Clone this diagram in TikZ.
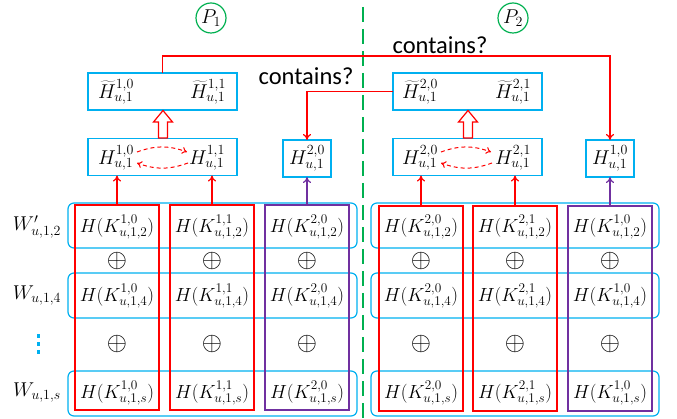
\RequirePackage{fix-cm}
\documentclass[tikz,border=0pt]{standalone}
\usepackage[no-math]{fontspec}
\setmainfont{Carlito}
\usetikzlibrary{arrows.meta}
\definecolor{cblue}{RGB}{0,176,240}
\definecolor{cred}{RGB}{255,0,0}
\definecolor{cpurple}{RGB}{112,48,160}
\definecolor{cgreen}{RGB}{0,176,80}
\begin{document}
\begin{tikzpicture}[x=1pt,y=-1pt,
  every node/.style={inner sep=0pt,outer sep=0pt},
  rowbox/.style={draw=cblue,line width=1.2pt,rounded corners=6pt,minimum width=#1,minimum height=45},
  colbox/.style={draw=#1,line width=1.2pt,minimum width=84,minimum height=205},
  hbox/.style={draw=cblue,line width=1.2pt,minimum width=#1,minimum height=37},
  cell/.style={font=\fontsize{19}{23}\selectfont},
  htxt/.style={font=\fontsize{20}{24}\selectfont},
  xorop/.style={font=\fontsize{26}{30}\selectfont},
  lbl/.style={font=\fontsize{24.5}{28}\selectfont},
  pcirc/.style={draw=cgreen,line width=1.2pt,circle,minimum size=30,font=\fontsize{20}{24}\selectfont},
  conn/.style={draw=cred,line width=1.2pt},
  upar/.style={line width=1.2pt,-{To[length=6pt,width=8pt]}},
  dasharr/.style={draw=cred,line width=1pt,dash pattern=on 4pt off 3pt,-{To[length=5pt,width=7pt]}},
  hollow/.style={draw=cred,fill=white,line width=1.2pt,line join=miter},
  bluedot/.style={fill=cblue,minimum size=3.6,inner sep=0pt}
]
\useasboundingbox (0,0) rectangle (677,419);

% divider
\draw[cgreen,line width=2.2pt,dash pattern=on 15pt off 7pt] (363,7) coordinate (dtop) -- (363,419) coordinate (dbot);

% party circles
\node[pcirc] (p1) at (211,18) {$P_1$};
\node[pcirc] (p2) at (513,18) {$P_2$};

% row boxes
\foreach \n/\y in {a/225.5,b/295.5,c/393.5}{
  \node[rowbox=289] (L\n) at (212.5,\y) {};
  \node[rowbox=288] (R\n) at (515,\y) {};
}
% columns
\node[colbox=cred] (Lc1) at (117,307.5) {};
\node[colbox=cred] (Lc2) at (212,307.5) {};
\node[colbox=cpurple] (Lc3) at (307,307.5) {};
\node[colbox=cred] (Rc1) at (421,308.5) {};
\node[colbox=cred] (Rc2) at (515,308.5) {};
\node[colbox=cpurple] (Rc3) at (610,308.5) {};

% cell texts
\foreach \x/\s/\k in {117/{1,0}/1, 212/{1,1}/2, 307/{2,0}/3}{
  \node[cell] (Lt\k a) at (\x,227) {$H(K^{\s}_{u,1,2})$};
  \node[cell] (Lt\k b) at (\x,296) {$H(K^{\s}_{u,1,4})$};
  \node[cell] (Lt\k c) at (\x,393) {$H(K^{\s}_{u,1,s})$};
  \node[xorop] (Lo\k a) at (\x,261) {$\oplus$};
  \node[xorop] (Lo\k b) at (\x,344) {$\oplus$};
}
\foreach \x/\s/\k in {421/{2,0}/1, 515/{2,1}/2, 610/{1,0}/3}{
  \node[cell] (Rt\k a) at (\x,227) {$H(K^{\s}_{u,1,2})$};
  \node[cell] (Rt\k b) at (\x,296) {$H(K^{\s}_{u,1,4})$};
  \node[cell] (Rt\k c) at (\x,393) {$H(K^{\s}_{u,1,s})$};
  \node[xorop] (Ro\k a) at (\x,261) {$\oplus$};
  \node[xorop] (Ro\k b) at (\x,344) {$\oplus$};
}

% row labels
\node[htxt] (w1) at (37,227) {$W'_{u,1,2}$};
\node[htxt] (w2) at (37,296) {$W_{u,1,4}$};
\node[bluedot] (d1) at (38.5,336) {};
\node[bluedot] (d2) at (38.5,344) {};
\node[bluedot] (d3) at (38.5,352) {};
\node[htxt] (w4) at (37,393) {$W_{u,1,s}$};

% upper boxes left
\node[hbox=149] (HtL) at (162.5,91.5) {};
\node[htxt] (HtL0) at (116,92) {$\widetilde{H}^{1,0}_{u,1}$};
\node[htxt] (HtL1) at (208,92) {$\widetilde{H}^{1,1}_{u,1}$};
\node[hbox=149] (HL) at (162.5,157) {};
\node[htxt] (HL0) at (116,158) {$H^{1,0}_{u,1}$};
\node[htxt] (HL1) at (207,158) {$H^{1,1}_{u,1}$};
\node[hbox=48] (HL2) at (307,158.5) {};
\node[htxt] (HL2t) at (HL2) {$H^{2,0}_{u,1}$};

% upper boxes right
\node[hbox=149] (HtR) at (467.5,91.5) {};
\node[htxt] (HtR0) at (420,92) {$\widetilde{H}^{2,0}_{u,1}$};
\node[htxt] (HtR1) at (513,92) {$\widetilde{H}^{2,1}_{u,1}$};
\node[hbox=149] (HR) at (467.5,157) {};
\node[htxt] (HR0) at (420,158) {$H^{2,0}_{u,1}$};
\node[htxt] (HR1) at (513,158) {$H^{2,1}_{u,1}$};
\node[hbox=48] (HR2) at (610,158.5) {};
\node[htxt] (HR2t) at (HR2) {$H^{1,0}_{u,1}$};

% column arrows
\draw[upar,cred] (Lc1.north) -- (Lc1.north |- HL.south);
\draw[upar,cred] (Lc2.north) -- (Lc2.north |- HL.south);
\draw[upar,cpurple] (Lc3.north) -- (HL2.south);
\draw[upar,cred] (Rc1.north) -- (Rc1.north |- HR.south);
\draw[upar,cred] (Rc2.north) -- (Rc2.north |- HR.south);
\draw[upar,cpurple] (Rc3.north) -- (HR2.south);

% hollow arrows
\foreach \cx in {163,468}{
  \draw[hollow] (\cx-4.5,138) -- (\cx-4.5,122) -- (\cx-9.5,122) -- (\cx,110.5)
     -- (\cx+9.5,122) -- (\cx+4.5,122) -- (\cx+4.5,138) -- cycle;
}

% dashed swaps
\draw[dasharr] (137,152) to[out=20,in=160] (187,152);
\draw[dasharr] (188,163) to[out=-160,in=-20] (137,163);
\draw[dasharr] (441,152) to[out=20,in=160] (491,152);
\draw[dasharr] (492,163) to[out=-160,in=-20] (441,163);

% contains connectors
\draw[conn,-{To[length=6pt,width=8pt]}] (HtL.north) |- (610,56) -- (HR2.north);
\draw[conn,-{To[length=6pt,width=8pt]}] (HtR.west) -| (HL2.north);
\node[lbl] (c1) at (440,45) {contains?};
\node[lbl] (c2) at (306,76) {contains?};
\end{tikzpicture}
\end{document}
